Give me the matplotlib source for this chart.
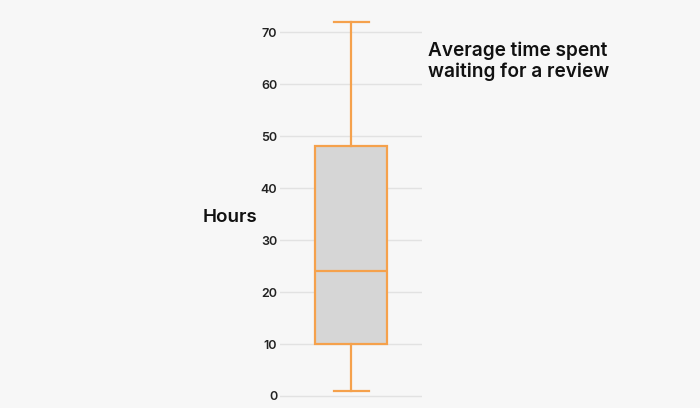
import matplotlib.pyplot as plt

# box stats (hours)
whisker_low = 1
q1 = 10
median = 24
q3 = 48
whisker_high = 72
yticks = [0, 10, 20, 30, 40, 50, 60, 70]

bg = "#f7f7f7"
orange = "#f5a14c"
font = "Inter"

fig = plt.figure(figsize=(7, 4.08), dpi=100, facecolor=bg)
ax = fig.add_axes([0.4, 0.0167, 0.203, 0.981])
ax.set_facecolor(bg)

stats = [{"whislo": whisker_low, "q1": q1, "med": median, "q3": q3,
          "whishi": whisker_high, "fliers": []}]
ax.bxp(stats, positions=[1], widths=0.507, capwidths=0.246, patch_artist=True,
       boxprops=dict(facecolor="#d6d6d6", edgecolor=orange, linewidth=1.6),
       medianprops=dict(color=orange, linewidth=1.6),
       whiskerprops=dict(color=orange, linewidth=1.6),
       capprops=dict(color=orange, linewidth=1.6), zorder=3)

ax.set_xlim(0.5, 1.5)
ax.set_ylim(-1, 76)
ax.set_yticks(yticks)
ax.set_yticklabels([str(t) for t in yticks], fontfamily=font,
                   fontweight="semibold", fontsize=9, color="#222222")
ax.tick_params(axis="y", length=0, pad=2)
ax.set_xticks([])
ax.grid(axis="y", color="#e2e2e2", linewidth=1)
ax.set_axisbelow(True)
for s in ax.spines.values():
    s.set_visible(False)

fig.text(0.329, 0.468, "Hours", fontfamily=font, fontweight="semibold",
         fontsize=13.5, color="#111111", ha="center", va="center")
fig.text(0.611, 0.85, "Average time spent\nwaiting for a review",
         fontfamily=font, fontweight="semibold", fontsize=13.7, color="#111111",
         ha="left", va="center", linespacing=1.15)

fig.savefig("out.png", dpi=100, facecolor=bg)
